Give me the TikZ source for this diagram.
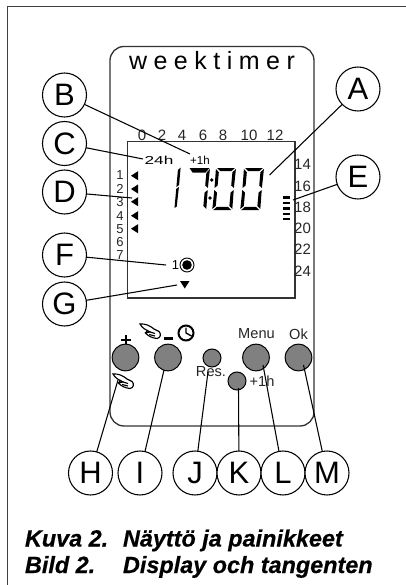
\documentclass[tikz,border=0pt]{standalone}
\usepackage{fontspec}
\setmainfont{Liberation Sans}
\newcommand{\fpx}[1]{\fontsize{\dimexpr #1pt*3/4\relax}{\dimexpr #1pt*9/10\relax}\selectfont}
\newcommand{\digitzero}[2]{\begin{scope}[shift={(#1,#2)},xslant=0.09]
\fill[lcd] (1,0) -- (19,0) -- (15.5,3.2) -- (4.5,3.2) -- cycle;
\fill[lcd] (0,1) -- (3.2,4.2) -- (3.2,17.5) -- (0.3,20) -- cycle;
\fill[lcd] (20,1) -- (16.8,4.2) -- (16.8,17.5) -- (19.7,20) -- cycle;
\fill[lcd] (0.3,22) -- (3.2,24.5) -- (3.2,38) -- (0,41) -- cycle;
\fill[lcd] (19.7,22) -- (16.8,24.5) -- (16.8,38) -- (20,41) -- cycle;
\fill[lcd] (1,42) -- (19,42) -- (15.5,38.8) -- (4.5,38.8) -- cycle;
\end{scope}}
\newcommand{\handicon}[2]{\begin{scope}[shift={(#1,#2)}]
\draw[handline] (0,0) .. controls (5,-0.5) and (10,1.5) .. (14,5) -- (19,7.5) .. controls (21.5,10) and (20.5,14) .. (17,14.5) .. controls (12,14) and (8,12) .. (5.5,9) .. controls (8,8.5) and (9,8) .. (10,8) .. controls (6,6) and (2,4) .. (0,0) -- cycle;
\draw[handline] (5.5,9) -- (8,6) (10,8) -- (15,9.5) (9,10.5) -- (15,12);
\end{scope}}
\tikzset{
  every node/.style={inner sep=0pt,outer sep=0pt},
  callout/.style={circle,draw=black,line width=0.8pt,fill=white,minimum size=33pt,font=\fpx{31}},
  lead/.style={draw=black,line width=0.8pt},
  housing/.style={draw=black!80,line width=1pt},
  keybig/.style={circle,draw=black,line width=0.75pt,fill=black!50,minimum size=20pt},
  keysmall/.style={circle,draw=black,line width=0.75pt,fill=black!50,minimum size=13.5pt},
  tick/.style={font=\fpx{15},text=black!85},
  daytick/.style={font=\fpx{13},text=black!85},
  keytext/.style={font=\fpx{14.6},text=black!85},
  lcd/.style={fill=black},
  handline/.style={draw=black,line width=0.85pt},
  marker/.style={fill=black},
  caption/.style={font=\fpx{23.4}\bfseries\itshape\addfontfeature{FakeBold=0.5},anchor=base west}
}
\begin{document}
\begin{tikzpicture}[x=0.75pt,y=-0.75pt]
\useasboundingbox (0,0) rectangle (406,585);
% outer frame
\draw[draw=black!75,line width=1.1pt] (7.5,585) -- (7.5,6.5) -- (406,6.5);
% housing and display
\draw[housing,rounded corners=10.5pt] (110,46.5) rectangle (314,426);
\draw[housing] (127.5,141.5) rectangle (295,298);
\node[font=\fpx{25}] (title) at (212,61) {\addfontfeature{LetterSpace=26}weektimer};
% hour scales
\foreach \n/\x/\t in {a/142/0,b/162/2,c/182/4,d/203/6,e/223/8,f/249/10,g/275/12}
  \node[tick] (top\n) at (\x,135) {\t};
\foreach \n/\y/\t in {a/164.3/14,b/186.7/16,c/207/18,d/228.7/20,e/249/22,f/271.7/24}
  \node[tick] (right\n) at (302.5,\y) {\t};
\foreach \y/\t in {175/1,189/2,202.5/3,216/4,229/5,242/6,255/7}
  \node[daytick] (day\t) at (120,\y) {\t};
\foreach \y in {175.7,189,201.7,215.7,228.7}
  \fill[marker] (131,\y) -- (138,\y-4.5) -- (138,\y+4.5) -- cycle;
% LCD texts
\node[font=\fpx{11.5}] (hours) at (159,160) {\scalebox{1.5}[1]{24h}};
\node[font=\fpx{11.5}] (summer) at (200,160) {+1h};
% time digits
\begin{scope}[shift={(174,208)},xslant=0.09]
\fill[lcd] (0.5,-19) -- (3,-21) -- (2.6,-1.5) -- (0.5,0) -- cycle;
\fill[lcd] (0.5,-38) -- (3,-40.5) -- (3,-23) -- (0.5,-21) -- cycle;
\end{scope}
\begin{scope}[shift={(190,168)},xslant=0.09]
\fill[lcd] (-0.5,0) -- (19.5,0) -- (16,4.5) -- (3,4.5) -- cycle;
\fill[lcd] (20,1) -- (16.8,5) -- (16.8,17.5) -- (19.7,20) -- cycle;
\fill[lcd] (19.7,22) -- (16.8,24.5) -- (16.8,38) -- (20,41) -- cycle;
\end{scope}
\fill (211.7,180) circle (1.8);
\fill (210,198) circle (1.8);
\digitzero{216}{168}
\digitzero{244}{168}
% bar gauge
\foreach \y in {197.5,203,208.5,214,219}
  \fill (283,\y-1.2) rectangle (290,\y+1.2);
% program marker
\node[font=\fpx{13}] (prog) at (175.5,265) {1};
\draw[line width=0.7pt] (187,265) circle (7);
\fill (187,265) circle (4.8);
\fill[marker] (180,281) -- (189.5,281) -- (184.75,288.5) -- cycle;
% keys
\node[keybig] (kplus) at (125.5,357.5) {};
\node[keybig] (kminus) at (168,357.5) {};
\node[keysmall] (kres) at (212,358) {};
\node[keysmall] (khour) at (237,381) {};
\node[keybig] (kmenu) at (256,357.5) {};
\node[keybig] (kok) at (298.5,357.5) {};
\node[keytext] (menu) at (256.5,334) {Menu};
\node[keytext] (ok) at (298.5,334) {Ok};
\node[keytext] (res) at (211,372) {Res.};
\node[keytext] (hr) at (262,381) {+1h};
% key symbols
\draw[line width=1.5pt] (121,339.5) -- (131,339.5) (126,335) -- (126,344);
\fill (164,337.3) rectangle (173,340);
\draw[line width=1.5pt] (186,333) circle (7.5);
\draw[line width=1pt] (186,333) -- (186,327.5) (186,333) -- (191.5,336);
\handicon{140}{324}
\handicon{113}{374}
% connector ends
\coordinate (ea) at (269.5,175);
\coordinate (eb) at (190,154);
\coordinate (ec) at (143,159);
\coordinate (ed) at (132,198);
\coordinate (ee) at (293,200);
\coordinate (ef) at (166,265);
\coordinate (eg) at (177,285);
\coordinate (eh) at (118,380);
\coordinate (ei) at (164,370);
\coordinate (ej) at (208,372);
\coordinate (ek) at (238.5,388);
\coordinate (el) at (263,365);
\coordinate (em) at (303.5,365);
% callouts
\node[callout] (A) at (358,89) {A};
\node[callout] (B) at (64.5,95) {B};
\node[callout] (C) at (64.5,143.5) {C};
\node[callout] (D) at (64.5,192) {D};
\node[callout] (E) at (358,177) {E};
\node[callout] (F) at (64.5,255) {F};
\node[callout] (G) at (64.5,304) {G};
\node[callout] (H) at (90.5,473) {H};
\node[callout] (I) at (140,473) {I};
\node[callout] (J) at (195,473) {J};
\node[callout] (K) at (239,473) {K};
\node[callout] (L) at (283,473) {L};
\node[callout] (M) at (327,473) {M};
\foreach \a/\b in {A/ea,B/eb,C/ec,D/ed,E/ee,F/ef,G/eg,H/eh,I/ei,J/ej,K/ek,L/el,M/em}
  \draw[lead] (\a) -- (\b);
% caption
\node[caption] (c1) at (25,546.5) {Kuva 2.};
\node[caption] (c2) at (123,546.5) {Näyttö ja painikkeet};
\node[caption] (c3) at (25,573) {Bild 2.};
\node[caption] (c4) at (123,573) {Display och tangenten};
\end{tikzpicture}
\end{document}
